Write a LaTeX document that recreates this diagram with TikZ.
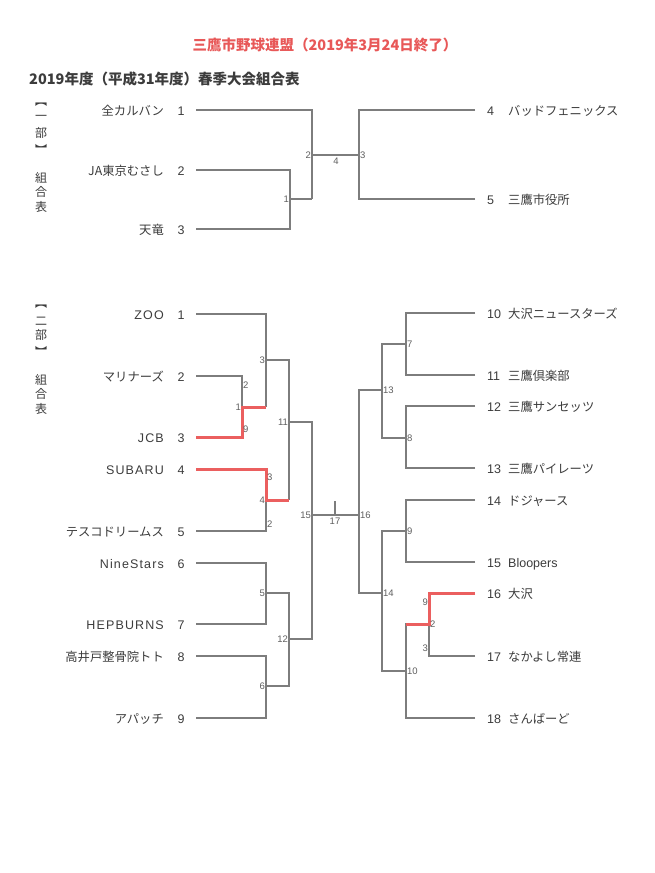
\documentclass[tikz,border=0pt]{standalone}
\usepackage{fontspec}
\setmainfont{Noto Sans CJK JP}
\newfontfamily\lat{Liberation Sans}
\newfontfamily\latw{Liberation Sans}[LetterSpace=9]
\definecolor{linegray}{RGB}{125,125,125}
\definecolor{txt}{RGB}{60,60,60}
\definecolor{lbl}{RGB}{95,95,95}
\definecolor{winred}{RGB}{235,95,95}
\definecolor{titlered}{RGB}{232,88,88}
\begin{document}
\begin{tikzpicture}[x=1pt,y=-1pt,
  ln/.style={draw=linegray, line width=1.2pt, line join=miter},
  win/.style={draw=winred, line width=3pt, line join=miter},
  lname/.style={anchor=base east, inner sep=0pt, text=txt, font=\fontsize{12.3}{14}\selectfont},
  lnamel/.style={anchor=base east, inner sep=0pt, text=txt, font=\latw\fontsize{12.5}{14}\selectfont},
  lnum/.style={anchor=base, inner sep=0pt, text=txt, font=\lat\fontsize{12.5}{14}\selectfont},
  rnum/.style={anchor=base west, inner sep=0pt, text=txt, font=\lat\fontsize{12.5}{14}\selectfont},
  rname/.style={anchor=base west, inner sep=0pt, text=txt, font=\fontsize{12.3}{14}\selectfont},
  rnamel/.style={anchor=base west, inner sep=0pt, text=txt, font=\lat\fontsize{12.5}{14}\selectfont},
  sl/.style={inner sep=0.8pt, text=lbl, font=\lat\fontsize{9.5}{10}\selectfont},
  vch/.style={inner sep=0pt, text=txt, font=\fontsize{12}{12}\selectfont}]
\useasboundingbox (0,0) rectangle (655,873);
\fill[white] (0,0) rectangle (655,873);

% titles
\node[text=titlered, font=\bfseries\fontsize{14.5}{16}\selectfont, anchor=center] (title) at (325,45) {三鷹市野球連盟（2019年3月24日終了）};
\node[text=txt, font=\bfseries\fontsize{14.5}{16}\selectfont, anchor=west, inner sep=0pt] (subtitle) at (29,79) {2019年度（平成31年度）春季大会組合表};

% vertical labels section 1
\node[vch] (v1a) at (41,105) {︻};
\node[vch] (v1b) at (41,118) {一};
\node[vch] (v1c) at (41,133) {部};
\node[vch] (v1d) at (41,149) {︼};
\node[vch] (v1e) at (41,178) {組};
\node[vch] (v1f) at (41,192) {合};
\node[vch] (v1g) at (41,207) {表};
% vertical labels section 2
\node[vch] (v2a) at (41,307) {︻};
\node[vch] (v2b) at (41,321) {二};
\node[vch] (v2c) at (41,335) {部};
\node[vch] (v2d) at (41,351) {︼};
\node[vch] (v2e) at (41,380) {組};
\node[vch] (v2f) at (41,394) {合};
\node[vch] (v2g) at (41,409) {表};

% ===== Section 1 teams =====
\node[lname] (na1) at (164,115) {全カルバン};
\node[lname] (na2) at (164,175) {JA東京むさし};
\node[lname] (na3) at (164,234) {天竜};
\node[lnum] (ma1) at (181,115) {1};
\node[lnum] (ma2) at (181,175) {2};
\node[lnum] (ma3) at (181,234) {3};
\node[rnum] (ma4) at (487,115) {4};
\node[rnum] (ma5) at (487,204) {5};
\node[rname] (na4) at (508,115) {バッドフェニックス};
\node[rname] (na5) at (508,204) {三鷹市役所};

\coordinate (a1) at (196,110);
\coordinate (a2) at (196,170);
\coordinate (a3) at (196,229);
\coordinate (j1) at (290,199);
\coordinate (k1) at (312,199);
\coordinate (j2) at (312,155);
\coordinate (j3) at (359,155);
\coordinate (b4) at (475,110);
\coordinate (b5) at (475,199);

\draw[ln] (a2) -| (j1);
\draw[ln] (a3) -| (j1) -- (k1);
\draw[ln] (a1) -| (k1);
\draw[ln] (j2) -- (j3);
\draw[ln] (b4) -| (j3);
\draw[ln] (b5) -| (j3);

\node[sl, anchor=east] (s1a) at (j1) {1};
\node[sl, anchor=east] (s1b) at (j2) {2};
\node[sl, anchor=north] (s1c) at (336,157) {4};
\node[sl, anchor=west] (s1d) at (j3) {3};

% ===== Section 2 left teams =====
\node[lnamel] (nc1) at (164,319) {ZOO};
\node[lname]  (nc2) at (164,381) {マリナーズ};
\node[lnamel] (nc3) at (164,442) {JCB};
\node[lnamel] (nc4) at (164,474) {SUBARU};
\node[lname]  (nc5) at (164,536) {テスコドリームス};
\node[lnamel] (nc6) at (164,568) {NineStars};
\node[lnamel] (nc7) at (164,629) {HEPBURNS};
\node[lname]  (nc8) at (164,661) {高井戸整骨院トト};
\node[lname]  (nc9) at (164,723) {アパッチ};
\node[lnum] (mc1) at (181,319) {1};
\node[lnum] (mc2) at (181,381) {2};
\node[lnum] (mc3) at (181,442) {3};
\node[lnum] (mc4) at (181,474) {4};
\node[lnum] (mc5) at (181,536) {5};
\node[lnum] (mc6) at (181,568) {6};
\node[lnum] (mc7) at (181,629) {7};
\node[lnum] (mc8) at (181,661) {8};
\node[lnum] (mc9) at (181,723) {9};

\coordinate (c1) at (196,314);
\coordinate (c2) at (196,376);
\coordinate (c3) at (196,437);
\coordinate (c4) at (196,469);
\coordinate (c5) at (196,531);
\coordinate (c6) at (196,563);
\coordinate (c7) at (196,624);
\coordinate (c8) at (196,656);
\coordinate (c9) at (196,718);
\coordinate (c3e) at (242,437);
\coordinate (g1) at (242,407);
\coordinate (g1r) at (266,407);
\coordinate (g3) at (266,360);
\coordinate (h11) at (289,422);
\coordinate (g4) at (266,500);
\coordinate (h2) at (289,500);
\coordinate (g5) at (266,593);
\coordinate (g6) at (266,686);
\coordinate (h12) at (289,639);
\coordinate (i15) at (312,515);
\coordinate (m16) at (359,515);
\coordinate (t17) at (335,501);
\coordinate (t17b) at (335,515);

\draw[ln] (c2) -| (c3e);
\draw[ln] (c1) -| (g1r);
\draw[ln] (g3) -| (h11);
\draw[ln] (h2) -- (h11);
\draw[ln] (c5) -| (g4);
\draw[ln] (c6) -| (g5);
\draw[ln] (c7) -| (g5);
\draw[ln] (c8) -| (g6);
\draw[ln] (c9) -| (g6);
\draw[ln] (g5) -| (h12);
\draw[ln] (g6) -| (h12);
\draw[ln] (h11) -| (i15);
\draw[ln] (h12) -| (i15);
\draw[ln] (i15) -- (m16);
\draw[ln] (t17) -- (t17b);
% winners (red)
\draw[win] (c3) -- (c3e) -- (g1) -- (g1r);
\draw[win] (c4) -| (g4) -- (h2);

\node[sl, anchor=west] (s2a) at (242,385) {2};
\node[sl, anchor=east] (s2b) at (g1) {1};
\node[sl, anchor=west] (s2c) at (242,429) {9};
\node[sl, anchor=east] (s2d) at (g3) {3};
\node[sl, anchor=west] (s2e) at (266,477) {3};
\node[sl, anchor=east] (s2f) at (g4) {4};
\node[sl, anchor=west] (s2g) at (266,524) {2};
\node[sl, anchor=east] (s2h) at (h11) {11};
\node[sl, anchor=east] (s2i) at (g5) {5};
\node[sl, anchor=east] (s2j) at (g6) {6};
\node[sl, anchor=east] (s2k) at (h12) {12};
\node[sl, anchor=east] (s2l) at (i15) {15};
\node[sl, anchor=north] (s2m) at (335,517) {17};
\node[sl, anchor=west] (s2n) at (m16) {16};

% ===== Section 2 right teams =====
\node[rnum] (mr10) at (487,318) {10};
\node[rnum] (mr11) at (487,380) {11};
\node[rnum] (mr12) at (487,411) {12};
\node[rnum] (mr13) at (487,473) {13};
\node[rnum] (mr14) at (487,505) {14};
\node[rnum] (mr15) at (487,567) {15};
\node[rnum] (mr16) at (487,598) {16};
\node[rnum] (mr17) at (487,661) {17};
\node[rnum] (mr18) at (487,723) {18};
\node[rname] (nr10) at (508,318) {大沢ニュースターズ};
\node[rname] (nr11) at (508,380) {三鷹倶楽部};
\node[rname] (nr12) at (508,411) {三鷹サンセッツ};
\node[rname] (nr13) at (508,473) {三鷹パイレーツ};
\node[rname] (nr14) at (508,505) {ドジャース};
\node[rnamel] (nr15) at (508,567) {Bloopers};
\node[rname] (nr16) at (508,598) {大沢};
\node[rname] (nr17) at (508,661) {なかよし常連};
\node[rname] (nr18) at (508,723) {さんばーど};

\coordinate (r10) at (475,313);
\coordinate (r11) at (475,375);
\coordinate (r12) at (475,406);
\coordinate (r13) at (475,468);
\coordinate (r14) at (475,500);
\coordinate (r15) at (475,562);
\coordinate (r16) at (475,593);
\coordinate (r17) at (475,656);
\coordinate (r18) at (475,718);
\coordinate (p7) at (406,344);
\coordinate (p8) at (406,438);
\coordinate (q13) at (382,390);
\coordinate (p9) at (406,531);
\coordinate (p10) at (406,671);
\coordinate (p2) at (429,624);
\coordinate (p2l) at (406,624);
\coordinate (q14) at (382,593);

\draw[ln] (r10) -| (p7);
\draw[ln] (r11) -| (p7);
\draw[ln] (r12) -| (p8);
\draw[ln] (r13) -| (p8);
\draw[ln] (p7) -| (q13);
\draw[ln] (p8) -| (q13);
\draw[ln] (q13) -| (m16);
\draw[ln] (r14) -| (p9);
\draw[ln] (r15) -| (p9);
\draw[ln] (p9) -| (q14);
\draw[ln] (r17) -| (p2);
\draw[ln] (p2) -| (p10);
\draw[ln] (r18) -| (p10);
\draw[ln] (p10) -| (q14);
\draw[ln] (q14) -| (m16);
\draw[win] (r16) -| (p2) -- (p2l);

\node[sl, anchor=west] (s3a) at (q13) {13};
\node[sl, anchor=west] (s3b) at (p7) {7};
\node[sl, anchor=west] (s3c) at (p8) {8};
\node[sl, anchor=west] (s3d) at (q14) {14};
\node[sl, anchor=west] (s3e) at (p9) {9};
\node[sl, anchor=west] (s3f) at (p10) {10};
\node[sl, anchor=east] (s3g) at (429,602) {9};
\node[sl, anchor=west] (s3h) at (p2) {2};
\node[sl, anchor=east] (s3i) at (429,648) {3};
\end{tikzpicture}
\end{document}
